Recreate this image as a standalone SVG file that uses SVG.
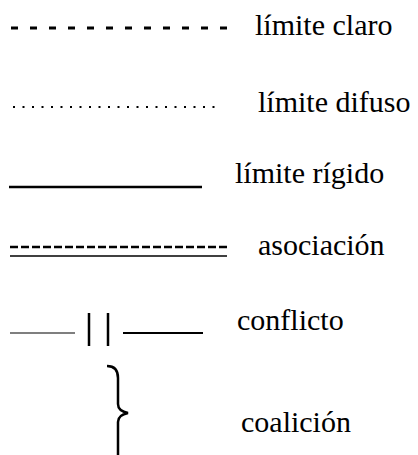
<svg xmlns="http://www.w3.org/2000/svg" width="418" height="455" viewBox="0 0 418 455">
<style>
text.lbl{font-family:'Liberation Serif','DejaVu Serif',serif;font-size:30px;fill:#000}
.ln{stroke:#000;fill:none}
</style>
<rect width="418" height="455" fill="#fff"/>
<g id="connectors">
<line id="claro" class="ln" x1="11" y1="28" x2="230" y2="28" stroke-width="3" stroke-dasharray="7 12"/>
<line id="difuso" class="ln" x1="13" y1="107" x2="222" y2="107" stroke-width="2" stroke-dasharray="2 7.5"/>
<line id="rigido" class="ln" x1="9" y1="187" x2="202" y2="187" stroke-width="2.5"/>
<line id="asoc-dash" class="ln" x1="10" y1="247" x2="227" y2="247" stroke-width="2.5" stroke-dasharray="8 3"/>
<line id="asoc-solid" class="ln" x1="10" y1="256" x2="227" y2="256" stroke-width="1.5"/>
<line id="conf-left" class="ln" x1="10" y1="333" x2="75" y2="333" stroke-width="1.2"/>
<line id="conf-bar1" class="ln" x1="89" y1="313" x2="89" y2="346" stroke-width="2.5"/>
<line id="conf-bar2" class="ln" x1="108" y1="313" x2="108" y2="346" stroke-width="2.5"/>
<line id="conf-right" class="ln" x1="123" y1="333" x2="203" y2="333" stroke-width="2"/>
<path id="brace" class="ln" stroke-width="2.5" d="M107 366 Q118 366 118 378 L118 404 Q118 411 128 413 Q118 415 118 422 L118 455"/>
</g>
<g id="n-claro"><text class="lbl" x="255" y="35" style="font-family:'Liberation Serif',serif">límite claro</text></g>
<g id="n-difuso"><text class="lbl" x="258" y="112" style="font-family:'Liberation Serif',serif">límite difuso</text></g>
<g id="n-rigido"><text class="lbl" x="235" y="183" style="font-family:'Liberation Serif',serif">límite rígido</text></g>
<g id="n-asociacion"><text class="lbl" x="258" y="255" style="font-family:'Liberation Serif',serif">asociación</text></g>
<g id="n-conflicto"><text class="lbl" x="237" y="330" style="font-family:'Liberation Serif',serif">conflicto</text></g>
<g id="n-coalicion"><text class="lbl" x="241" y="432" style="font-family:'Liberation Serif',serif">coalición</text></g>
</svg>
